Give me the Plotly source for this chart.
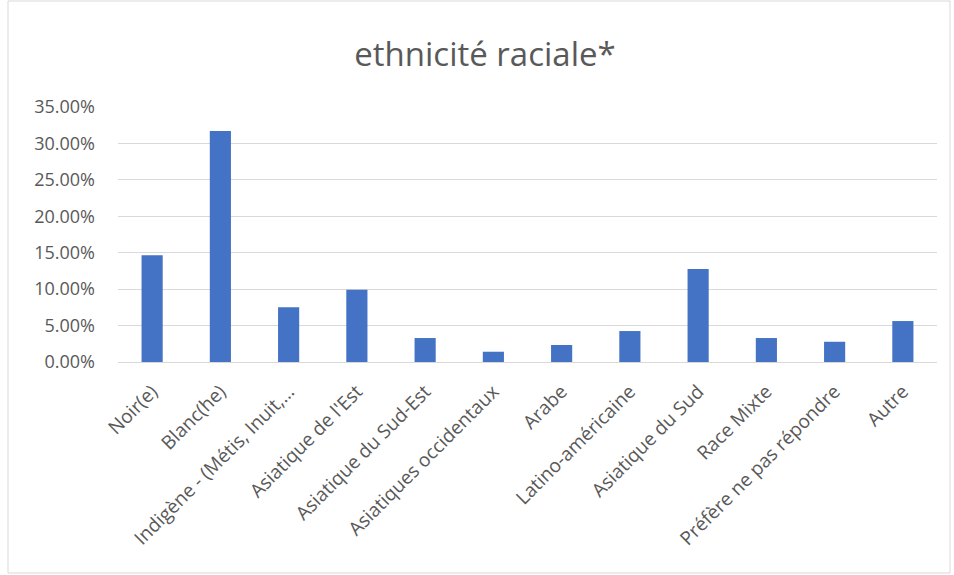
import plotly.graph_objects as go

categories = ["Noir(e)", "Blanc(he)", "Indigène - (Métis, Inuit,…", "Asiatique de l'Est",
              "Asiatique du Sud-Est", "Asiatiques occidentaux", "Arabe", "Latino-américaine",
              "Asiatique du Sud", "Race Mixte", "Préfère ne pas répondre", "Autre"]
values = [0.1466, 0.317, 0.0753, 0.099, 0.0329, 0.0141, 0.0233, 0.0425, 0.1278, 0.0329, 0.0278, 0.0562]
tick_vals = [0, 0.05, 0.10, 0.15, 0.20, 0.25, 0.30, 0.35]

W, H = 954, 575
L, R, T, B = 118, 17, 107, 213
pw, ph = W - L - R, H - T - B

fig = go.Figure(go.Bar(x=categories, y=values, marker_color="#4472C4",
                       marker_line_width=0))

font_family = "Open Sans, Liberation Sans, sans-serif"
fig.update_layout(
    width=W, height=H,
    margin=dict(l=L, r=R, t=T, b=B, pad=0),
    paper_bgcolor="white", plot_bgcolor="white",
    bargap=0.69,
    showlegend=False,
    title=dict(text="ethnicité raciale*", x=485 / W, xref="container", xanchor="center",
               y=1 - 54 / H, yanchor="middle",
               font=dict(family=font_family, size=33, color="#595959")),
    font=dict(family=font_family, color="#595959"),
    xaxis=dict(tickangle=-45, tickfont=dict(size=19, color="#595959"),
               showgrid=False, showline=True, linecolor="#d9d9d9", linewidth=1,
               ticks="", ticklabelstandoff=10, automargin=False),
    yaxis=dict(range=[0, 0.35], tickvals=tick_vals, tickformat=".2%",
               tickfont=dict(size=18, color="#595959"),
               showgrid=True, gridcolor="#d9d9d9", gridwidth=1,
               zeroline=False, showline=False, ticks="", ticklabelstandoff=22,
               automargin=False),
    shapes=[dict(type="rect", xref="paper", yref="paper",
                 x0=(8 - L) / pw, x1=(950 - L) / pw,
                 y0=-(573 - (H - B)) / ph, y1=((H - B) - 1) / ph,
                 line=dict(color="#d9d9d9", width=1), fillcolor="rgba(0,0,0,0)",
                 layer="below")],
)

fig.write_html("out.html")
